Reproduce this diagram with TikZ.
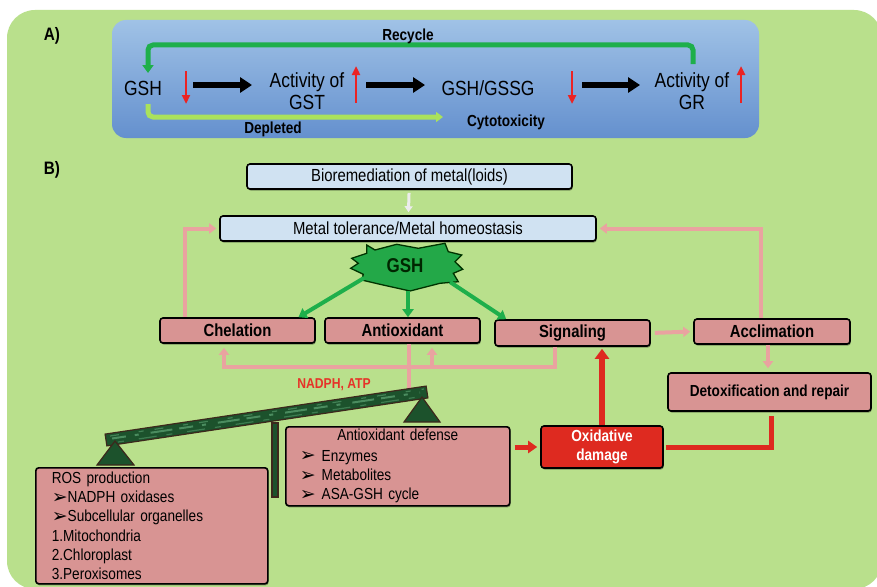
\documentclass[tikz,border=0pt]{standalone}
\usepackage{fontspec}
\setmainfont[FakeStretch=0.85]{Liberation Sans}
\newfontfamily\dejavu{DejaVu Sans}
\usetikzlibrary{arrows.meta,shadows}
\definecolor{bggreen}{RGB}{185,224,140}
\definecolor{bluetop}{RGB}{160,194,230}
\definecolor{bluebot}{RGB}{100,144,206}
\definecolor{recgreen}{RGB}{30,175,75}
\definecolor{deplgreen}{RGB}{170,226,92}
\definecolor{redA}{RGB}{235,35,35}
\definecolor{pinkfill}{RGB}{216,148,147}
\definecolor{pinkline}{RGB}{233,163,160}
\definecolor{lbfill}{RGB}{208,226,242}
\definecolor{starfill}{RGB}{35,168,72}
\definecolor{oxred}{RGB}{222,42,32}
\definecolor{beamdark}{RGB}{28,82,44}
\definecolor{beamlight}{RGB}{75,140,95}
\definecolor{beamedge}{RGB}{60,40,28}
\definecolor{nadred}{RGB}{230,50,40}
\newcommand\fsz[2]{\fontsize{#1}{#2}\selectfont}
\newcommand\bul{\raisebox{-0.5pt}{\dejavu\fsz{19}{15}➢}}
\begin{document}
\begin{tikzpicture}[x=1pt,y=-1pt,
  atext/.style={inner sep=0pt, font=\fsz{20.5}{22}},
  bl/.style={inner sep=0pt, font=\bfseries\fsz{16}{18}},
  lab/.style={inner sep=0pt, font=\bfseries\fsz{18}{20}},
  blk/.style={line width=6pt, -{Triangle[width=15pt,length=12pt]}},
  reda/.style={line width=2.5pt, redA, -{Triangle[width=8pt,length=9pt]}},
  recyc/.style={line width=5pt, recgreen, rounded corners=5pt, -{Triangle[width=11pt,length=8pt]}},
  depl/.style={line width=5pt, deplgreen, rounded corners=5pt, -{Triangle[width=10pt,length=7pt]}},
  shad/.style={drop shadow={shadow xshift=0.8pt, shadow yshift=-1.6pt, fill=black, opacity=0.35}},
  pbox/.style={shad, draw=black, line width=1.6pt, rounded corners=3pt, fill=pinkfill, inner sep=0pt, font=\bfseries\fsz{17.5}{20}},
  bbox/.style={shad, draw=black, line width=1.6pt, rounded corners=3pt, fill=lbfill, inner sep=0pt, font=\fsz{17.5}{20}},
  garr/.style={line width=4pt, recgreen, -{Triangle[width=11pt,length=8pt]}},
  parr/.style={line width=4pt, pinkline, -{Triangle[width=10pt,length=7pt]}},
  pline/.style={line width=4pt, pinkline},
  rarr/.style={line width=5pt, oxred, -{Triangle[width=12pt,length=9pt]}},
  rline/.style={line width=5pt, oxred},
  beam/.style={fill=beamdark, draw=beamedge, line width=1.2pt}
]
\useasboundingbox (0,0) rectangle (877,586);
\fill[white] (0,0) rectangle (877,586);
\fill[bggreen, rounded corners=28pt] (7,10) rectangle (882,589);

% ---------------- Panel A ----------------
\node[lab] (labA) at (52,36) {A)};
\node[rounded corners=14pt, top color=bluetop, bottom color=bluebot, minimum width=647pt, minimum height=118pt, inner sep=0pt] (boxA) at (435.5,79) {};

\node[atext] (gshA) at (143,88) {GSH};
\node[atext, align=center] (gstA) at (307,91) {Activity of\\GST};
\node[atext] (gssgA) at (488,88) {GSH/GSSG};
\node[atext, align=center] (grA) at (692,91) {Activity of\\GR};

\draw[reda] (186,71) -- (186,104);
\draw[reda] (356,103) -- (356,66);
\draw[reda] (572,71) -- (572,104);
\draw[reda] (741,103) -- (741,66);

\coordinate (k1s) at (193,85); \coordinate (k1e) at (252,85);
\coordinate (k2s) at (366,85); \coordinate (k2e) at (425,85);
\coordinate (k3s) at (582,85); \coordinate (k3e) at (640,85);
\draw[blk] (k1s) -- (k1e);
\draw[blk] (k2s) -- (k2e);
\draw[blk] (k3s) -- (k3e);

\coordinate (rcS) at (693,64);
\coordinate (rcE) at (148,73);
\coordinate (rcT) at (148,45);
\draw[recyc] (rcS) |- (rcT) -- (rcE);
\node[bl] (recL) at (408,36) {Recycle};

\coordinate (dpS) at (148,104);
\coordinate (dpE) at (443,117);
\draw[depl] (dpS) |- (dpE);
\node[bl] (depL) at (273,129) {Depleted};
\node[bl] (cytL) at (506,122) {Cytotoxicity};

% ---------------- Panel B ----------------
\node[lab] (labB) at (52,170) {B)};

\node[bbox, minimum width=325pt, minimum height=25pt] (bio) at (409.5,176.5) {Bioremediation of metal(loids)};
\node[bbox, minimum width=376pt, minimum height=25pt] (metal) at (408,228.5) {Metal tolerance/Metal homeostasis};
\draw[line width=3pt, white!85!gray, -{Triangle[width=8pt,length=6pt]}, shorten <=3pt, shorten >=3pt] (bio) -- (metal);

% GSH starburst
\filldraw[fill=starfill, draw=black!80!green, line width=1.3pt, line join=miter]
  (366.7,245) -- (375,250) -- (396.7,244.3) -- (418.3,248.3) -- (445,243.3) -- (448.3,251.7)
  -- (461.7,255) -- (455,261.7) -- (462.7,269.3) -- (453.3,273.3) -- (458.3,281.7) -- (440,283.3)
  -- (410,291) -- (380,284.3) -- (361.7,280) -- (363.3,274.3) -- (350.7,268.3) -- (358.3,263.3)
  -- (351.7,258.3) -- (366.7,253.3) -- cycle;
\node[inner sep=0pt, font=\bfseries\fsz{20}{20}, text=black!85!green] (gshB) at (405,266) {GSH};
\coordinate (stL) at (364,278);
\coordinate (stM) at (408,291);
\coordinate (stR) at (450,282);

\node[pbox, minimum width=155pt, minimum height=25pt] (chel) at (237.5,330.5) {Chelation};
\node[pbox, minimum width=155pt, minimum height=25pt] (anti) at (402.5,330.5) {Antioxidant};
\node[pbox, minimum width=155pt, minimum height=26pt] (sig) at (572.5,333) {Signaling};
\node[pbox, minimum width=156pt, minimum height=25pt] (accl) at (772,331.5) {Acclimation};
\node[pbox, font=\bfseries\fsz{16}{18}, minimum width=203pt, minimum height=38pt] (detox) at (769.5,392) {Detoxification and repair};

\draw[garr] (stL) -- ([xshift=61pt]chel.north);
\draw[garr] (stM) -- ([xshift=5.5pt]anti.north);
\draw[garr] (stR) -- ([xshift=12pt]sig.north west);

\draw[parr, shorten >=3pt] ([xshift=-52.5pt]chel.north) |- (metal.west);
\draw[parr, shorten >=3pt] ([xshift=-11pt]accl.north) |- (metal.east);
\draw[parr, shorten <=4pt, shorten >=3pt] (sig.east) -- (accl.west);
\draw[parr, shorten >=4pt] ([xshift=-4pt]accl.south) -- ([xshift=-1.5pt]detox.north);

\coordinate (fbR) at (555,367);
\coordinate (chelF) at ([xshift=-13.5pt]chel.south);
\coordinate (antF) at ([xshift=29.5pt]anti.south);
\coordinate (beamTop) at (409,389);
\draw[pline] ([xshift=6.5pt]anti.south) -- (beamTop);
\draw[parr, shorten >=4pt] ([xshift=-17.5pt]sig.south) |- (chelF |- fbR) -- (chelF);
\draw[parr, shorten >=4pt] (antF |- fbR) -- (antF);

\node[inner sep=0pt, font=\bfseries\fsz{14.3}{16}, text=nadred] (nadph) at (334,385) {NADPH, ATP};

% balance
\fill[beam] (105.1,434.1) -- (426.1,386.1) -- (427.9,397.9) -- (106.9,445.9) -- cycle;
\begin{scope}
\clip (105.1,434.1) -- (426.1,386.1) -- (427.9,397.9) -- (106.9,445.9) -- cycle;
\draw[beamlight, line width=2pt, dash pattern=on 14pt off 9pt on 4pt off 12pt on 22pt off 7pt] (112,438.5) -- (420,392.5);
\draw[beamlight!70!beamdark, line width=1.2pt, dash pattern=on 6pt off 15pt on 18pt off 10pt] (118,442) -- (418,397);
\draw[beamlight!80!beamdark, line width=1.2pt, dash pattern=on 9pt off 20pt on 5pt off 11pt] (110,436) -- (424,389);
\end{scope}
\draw[beam] (115,441) -- (134,465) -- (97,465) -- cycle;
\draw[beam] (422,397) -- (440,422) -- (404,422) -- cycle;
\draw[beam] (272,423) rectangle (278,497);

\node[pbox, anchor=north west, font=\fsz{16}{19.2}, align=left, text width=200pt, inner xsep=16pt, minimum height=116pt] (ros) at (35,467)
  {ROS production\\\bul NADPH oxidases\\\bul Subcellular organelles\\1.Mitochondria\\2.Chloroplast\\3.Peroxisomes};

\node[pbox, anchor=north west, font=\fsz{16}{19.3}, align=left, text width=208pt, inner xsep=8pt, minimum height=79pt] (antdef) at (285,426)
  {\makebox[\linewidth]{Antioxidant defense}\\[1pt]\hspace*{6pt}\bul\hspace{6pt}Enzymes\\\hspace*{6pt}\bul\hspace{6pt}Metabolites\\\hspace*{6pt}\bul\hspace{6pt}ASA-GSH cycle};

\node[pbox, fill=oxred, text=white, align=center, font=\bfseries\fsz{16}{19}, minimum width=122pt, minimum height=42pt] (oxd) at (602,447) {Oxidative\\damage};

\draw[rarr, shorten <=4pt, shorten >=3pt] (antdef.east |- oxd.west) -- (oxd.west);
\draw[rarr, line width=6pt, -{Triangle[width=14pt,length=10pt]}, shorten >=2pt] (oxd.north) -- (oxd.north |- sig.south);
\draw[rline, shorten <=2pt, shorten >=4pt] (oxd.east) -| ([xshift=1.5pt]detox.south);
\end{tikzpicture}
\end{document}
